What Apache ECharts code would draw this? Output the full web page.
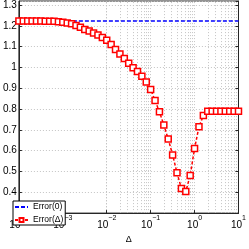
<!DOCTYPE html>
<html><head><meta charset="utf-8">
<script src="https://cdn.jsdelivr.net/npm/echarts@6/dist/echarts.min.js"></script>
<style>html,body{margin:0;padding:0;background:#fff}#c{width:249px;height:249px}</style>
</head><body><div id="c"></div>
<script>
// Δ values (logspace 1e-4 .. 1e1, 51 points)
const deltas = [
 1.000e-4,1.259e-4,1.585e-4,1.995e-4,2.512e-4,3.162e-4,3.981e-4,5.012e-4,6.310e-4,7.943e-4,
 1.000e-3,1.259e-3,1.585e-3,1.995e-3,2.512e-3,3.162e-3,3.981e-3,5.012e-3,6.310e-3,7.943e-3,
 1.000e-2,1.259e-2,1.585e-2,1.995e-2,2.512e-2,3.162e-2,3.981e-2,5.012e-2,6.310e-2,7.943e-2,
 1.000e-1,1.259e-1,1.585e-1,1.995e-1,2.512e-1,3.162e-1,3.981e-1,5.012e-1,6.310e-1,7.943e-1,
 1.000,1.259,1.585,1.995,2.512,3.162,3.981,5.012,6.310,7.943,
 10.0];
// Error(Δ) values
const errDelta = [
 1.2235,1.2235,1.2235,1.2234,1.2234,1.2233,1.2232,1.2230,1.2225,1.2205,
 1.2176,1.2145,1.2100,1.2023,1.1933,1.1830,1.1753,1.1663,1.1560,1.1447,
 1.1312,1.1110,1.0871,1.0646,1.0435,1.0210,0.9985,0.9805,0.9580,0.9310,
 0.8950,0.8410,0.7870,0.7240,0.6560,0.5800,0.4940,0.4180,0.4040,0.4810,
 0.6110,0.7150,0.7690,0.7900,0.7900,0.7900,0.7900,0.7900,0.7900,0.7900,
 0.7900];
// Error(0): constant level
const errZero = 1.2235;
const xRange = [1e-4, 10];
const yRange = [0.3, 1.32];
const yTickStep = 0.1;
const seriesNames = ['Error(0)', 'Error(\u0394)'];
const xName = '\u0394';
// grid positions on log axis (1..9 × 10^d)
const gridMantissas = [1,2,3,4,5,6,7,8,9];
const decades = [1e-4,1e-3,1e-2,1e-1,1];
const xGrid = [];
decades.forEach(d => gridMantissas.forEach(m => xGrid.push(m * d)));

const font = '"Liberation Sans", Arial, Helvetica, sans-serif';
const gridLine = {color:'#c4c4c4', width:1, type:[1,2]};
const axisCol = '#262626';

const chart = echarts.init(document.getElementById('c'), null, {renderer:'canvas'});
chart.setOption({
  animation:false,
  backgroundColor:'#fff',
  textStyle:{fontFamily:font},
  grid:{left:13, right:6, top:1, bottom:22, show:true, borderColor:axisCol, borderWidth:1, backgroundColor:'transparent'},
  legend:{
    orient:'vertical', left:13, top:201,
    itemWidth:13, itemHeight:5, itemGap:3,
    padding:[1,2,0,1],
    borderColor:'#000', borderWidth:1, backgroundColor:'#fff',
    textStyle:{fontSize:8.5, lineHeight:10, color:'#000', fontFamily:font},
    data:[
      {name:seriesNames[0], itemStyle:{color:'rgba(0,0,0,0)', borderWidth:0}},
      {name:seriesNames[1]}
    ]
  },
  xAxis:{
    type:'log', logBase:10, min:xRange[0], max:xRange[1],
    name:xName, nameLocation:'middle', nameGap:17,
    nameTextStyle:{fontSize:9, color:'#000'},
    axisLine:{show:true, lineStyle:{color:axisCol}},
    axisTick:{show:true, inside:true, length:3, lineStyle:{color:axisCol}},
    splitLine:{show:false},
    axisLabel:{
      margin:1, color:'#000',
      formatter:v => '{b|10}{s|' + String(Math.round(Math.log10(v))).replace('-', '\u2212') + '}',
      rich:{
        b:{fontSize:10, lineHeight:16, verticalAlign:'bottom', color:'#000', fontFamily:font},
        s:{fontSize:7, lineHeight:7, verticalAlign:'top', color:'#000', fontFamily:font}
      }
    }
  },
  yAxis:[{
    type:'value', min:yRange[0], max:yRange[1], interval:yTickStep,
    axisLine:{show:true, lineStyle:{color:axisCol}},
    axisTick:{show:true, inside:true, length:3, lineStyle:{color:axisCol}},
    splitLine:{show:true, lineStyle:gridLine},
    axisLabel:{margin:2, fontSize:10, color:'#000', showMinLabel:false, showMaxLabel:false,
      formatter:v => String(Math.round(v*10)/10)}
  },{
    type:'value', position:'right', min:yRange[0], max:yRange[1], interval:yTickStep,
    axisLine:{show:true, lineStyle:{color:axisCol}},
    axisTick:{show:true, inside:true, length:3, lineStyle:{color:axisCol}},
    splitLine:{show:false}, axisLabel:{show:false}
  }],
  series:[
    {
      name:seriesNames[0], type:'line', symbol:'none', z:2,
      data:[[xRange[0], errZero],[xRange[1], errZero]],
      lineStyle:{color:'#0000ff', width:1.5, type:[4,2]},
      itemStyle:{color:'#0000ff'},
      markLine:{silent:true, symbol:'none', label:{show:false}, animation:false,
        lineStyle:gridLine, z:0,
        data:xGrid.map(v => ({xAxis:v}))}
    },
    {
      name:seriesNames[1], type:'line', symbol:'rect', symbolSize:6, z:3,
      data:deltas.map((d,i) => [d, errDelta[i]]),
      lineStyle:{color:'#ff0000', width:1.5, type:[3,2]},
      itemStyle:{color:'#ffffff', borderColor:'#ff0000', borderWidth:1.5},
      clip:false
    }
  ]
});
</script></body></html>
